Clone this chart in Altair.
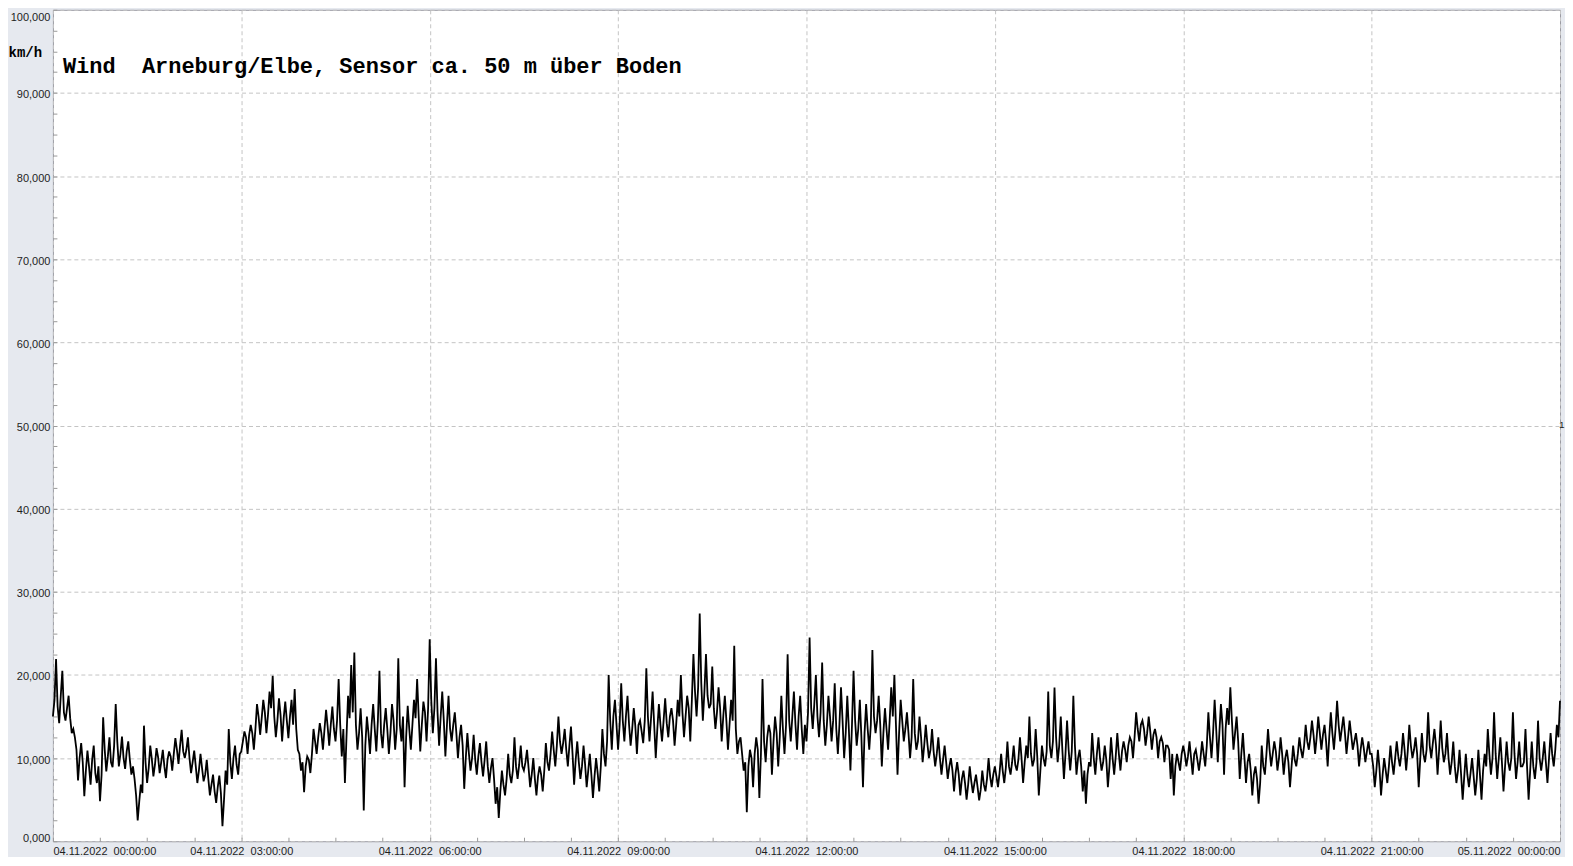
import altair as alt
import pandas as pd

# Wind speed (km/h), 04.11.2022 00:00 -> 05.11.2022 00:00.
# seg_*: readings on the full 3-minute marks (peaks / dips of the trace)
seg_00_03 = [15.0, 21.9, 14.2, 20.5, 14.5, 17.5, 13.0, 12.5, 7.3, 11.8,
             5.4, 10.9, 6.8, 11.5, 7.0, 4.8, 14.9, 8.4, 12.5, 8.9,
             16.5, 9.0, 12.6, 8.7, 12.0, 8.0, 7.5, 2.5, 6.8, 13.9,
             7.0, 11.5, 7.8, 11.2, 8.2, 11.0, 7.6, 10.8, 8.5, 12.4,
             9.3, 13.4, 10.0, 12.5, 8.2, 10.9, 7.0, 10.5, 7.2, 9.8,
             5.5, 8.0, 4.6, 7.9, 1.8, 8.5, 13.5, 7.5, 11.5, 8.0]
seg_03_06 = [10.8, 13.2, 10.5, 14.0, 11.0, 16.5, 12.8, 17.0, 13.0, 18.0,
             19.9, 12.5, 17.2, 12.0, 16.8, 12.4, 17.0, 18.3, 11.0, 8.5,
             5.9, 10.2, 8.2, 13.5, 10.5, 14.2, 11.0, 15.8, 11.5, 16.2,
             12.0, 19.5, 10.2, 7.0, 17.5, 21.2, 22.7, 11.0, 16.0, 3.7,
             15.0, 10.5, 16.5, 10.8, 20.5, 11.2, 16.0, 10.5, 16.5, 11.0,
             22.0, 12.0, 6.5, 16.3, 11.0, 17.0, 19.5, 10.8, 16.8, 12.0]
seg_06_09 = [24.3, 13.0, 22.0, 11.5, 18.0, 10.2, 17.5, 12.0, 15.5, 10.0,
             14.0, 6.3, 13.0, 8.5, 12.8, 8.0, 11.8, 7.8, 12.0, 7.0,
             10.0, 4.5, 2.8, 8.5, 5.5, 10.5, 7.0, 12.5, 7.5, 11.5,
             8.5, 11.0, 6.5, 10.0, 5.5, 9.0, 6.0, 11.8, 8.5, 13.2,
             9.0, 15.0, 10.5, 13.5, 9.0, 13.8, 6.8, 12.0, 7.5, 11.5,
             6.5, 10.5, 5.2, 10.0, 6.0, 13.5, 9.0, 20.0, 11.0, 17.0]
seg_09_12 = [11.0, 19.0, 12.0, 17.5, 11.5, 16.0, 10.5, 14.5, 11.8, 20.8,
             12.0, 18.0, 10.0, 16.5, 12.0, 17.2, 12.5, 16.0, 11.5, 17.0,
             20.0, 12.5, 17.5, 12.0, 22.5, 15.0, 27.4, 14.5, 22.5, 16.0,
             21.0, 13.5, 18.5, 12.0, 17.5, 11.0, 17.0, 23.5, 10.5, 12.5,
             8.5, 3.5, 11.0, 6.5, 12.5, 5.2, 19.5, 9.5, 14.0, 8.0,
             15.0, 9.0, 17.5, 10.5, 22.5, 12.0, 18.0, 11.0, 17.5, 10.5]
seg_12_15 = [12.0, 24.5, 13.5, 20.0, 12.5, 21.5, 11.5, 17.5, 12.0, 19.0,
             10.5, 18.5, 10.0, 17.5, 8.5, 20.5, 11.5, 17.0, 6.5, 16.5,
             11.0, 23.0, 13.0, 17.5, 9.0, 16.0, 11.0, 18.5, 20.0, 8.0,
             17.0, 12.0, 15.5, 10.0, 19.5, 11.0, 15.0, 9.5, 14.0, 10.0,
             13.5, 9.0, 12.5, 8.0, 11.5, 7.5, 10.0, 6.0, 9.5, 5.5,
             8.5, 5.0, 9.0, 5.8, 8.0, 4.9, 8.5, 6.0, 10.0, 6.5]
seg_15_18 = [9.0, 6.5, 10.5, 7.0, 12.0, 8.0, 11.5, 8.5, 12.5, 7.0,
             11.5, 15.0, 9.0, 13.5, 5.5, 11.5, 9.0, 18.0, 10.0, 18.5,
             9.5, 15.0, 7.5, 14.5, 8.5, 17.5, 8.0, 11.0, 6.0, 4.5,
             9.5, 13.0, 8.0, 12.5, 8.5, 11.5, 6.5, 12.5, 8.0, 13.0,
             8.5, 12.0, 9.5, 12.5, 10.0, 15.5, 12.0, 14.5, 11.5, 15.0,
             11.0, 13.5, 10.0, 12.5, 9.5, 11.5, 7.5, 5.5, 10.5, 8.5]
seg_18_21 = [11.5, 9.0, 12.0, 8.0, 11.0, 8.5, 12.0, 9.0, 15.5, 10.0,
             17.0, 9.5, 16.5, 8.0, 16.0, 18.5, 11.0, 15.0, 7.5, 13.0,
             7.0, 10.5, 5.5, 9.0, 4.5, 11.5, 8.0, 13.5, 9.0, 12.0,
             8.5, 12.5, 8.0, 11.0, 6.5, 11.5, 9.0, 12.5, 10.0, 14.0,
             11.0, 14.5, 10.5, 15.0, 11.0, 14.0, 9.0, 15.5, 11.0, 16.9,
             12.0, 15.0, 10.5, 14.5, 11.0, 13.0, 9.0, 12.5, 9.5, 12.0]
seg_21_24 = [10.5, 6.5, 11.0, 5.5, 10.0, 7.0, 11.5, 8.0, 12.0, 9.0,
             13.0, 8.5, 14.0, 10.0, 12.5, 6.5, 13.0, 9.5, 15.5, 10.0,
             13.5, 8.0, 14.5, 9.5, 13.0, 8.0, 12.0, 7.0, 11.0, 5.0,
             10.5, 6.5, 10.0, 5.5, 11.0, 5.0, 10.5, 13.5, 8.0, 15.5,
             7.5, 12.5, 6.0, 12.0, 8.5, 15.5, 7.5, 12.0, 9.0, 13.5,
             5.0, 12.0, 7.5, 14.5, 8.5, 12.0, 7.0, 13.0, 9.0, 14.0,
             16.9]

# mid_*: readings half-way between the 3-minute marks (dense core of the trace)
mid_00_03 = [17.0, 16.2, 17.5, 15.5, 16.0, 14.8, 13.5, 11.0, 10.0, 9.5,
             8.5, 9.0, 9.8, 8.2, 9.0, 8.0, 11.0, 10.2, 9.5, 11.5,
             12.0, 10.5, 10.0, 10.8, 9.8, 9.0, 5.5, 4.8, 5.8, 9.5,
             8.8, 9.9, 9.2, 10.1, 9.5, 9.0, 9.8, 10.2, 10.5, 11.0,
             11.5, 10.8, 11.0, 10.0, 9.5, 9.0, 8.5, 8.8, 8.0, 7.5,
             6.8, 6.0, 6.5, 5.8, 5.0, 6.8, 9.5, 10.0, 9.2, 10.5]
mid_03_06 = [12.0, 12.5, 12.8, 13.0, 13.5, 15.0, 14.8, 15.5, 15.2, 16.0,
             15.0, 14.5, 15.2, 14.8, 14.5, 15.0, 14.0, 13.5, 10.5, 9.5,
             9.0, 9.8, 10.5, 12.0, 12.5, 13.0, 13.5, 13.8, 14.0, 13.5,
             14.5, 14.0, 13.5, 12.5, 14.8, 15.5, 14.0, 13.0, 12.5, 11.5,
             13.0, 14.0, 13.5, 14.5, 13.0, 14.0, 13.5, 13.0, 14.5, 13.5,
             14.0, 15.0, 12.5, 13.5, 14.0, 14.8, 15.0, 14.0, 15.5, 16.0]
mid_06_09 = [17.0, 16.0, 15.5, 15.0, 14.5, 14.0, 13.5, 14.0, 13.0, 12.5,
             11.5, 10.0, 10.5, 10.0, 9.8, 10.2, 9.5, 9.8, 9.0, 8.8,
             7.5, 6.5, 6.0, 6.8, 7.5, 8.0, 8.5, 9.0, 9.2, 9.0,
             9.5, 8.8, 8.0, 7.5, 7.8, 8.0, 8.5, 9.5, 10.5, 11.0,
             11.5, 12.0, 11.8, 11.0, 11.5, 10.5, 9.8, 9.5, 9.0, 9.2,
             8.5, 8.0, 7.8, 8.2, 9.0, 10.5, 12.0, 14.5, 15.0, 14.0]
mid_09_12 = [14.0, 14.5, 15.0, 14.0, 13.5, 13.8, 14.0, 13.2, 14.5, 15.0,
             14.8, 14.0, 13.5, 14.0, 14.5, 14.2, 15.0, 14.5, 14.0, 15.0,
             15.5, 15.0, 16.0, 17.0, 18.0, 18.5, 19.0, 18.0, 17.5, 16.5,
             16.0, 15.5, 16.0, 15.0, 14.5, 14.0, 14.5, 13.5, 12.0, 10.5,
             9.5, 9.0, 10.0, 10.5, 11.0, 10.5, 12.0, 12.5, 13.0, 12.0,
             13.0, 12.5, 13.5, 14.0, 14.5, 15.0, 14.0, 15.0, 13.5, 14.0]
mid_12_15 = [15.5, 16.0, 16.5, 15.0, 15.5, 14.5, 14.0, 15.0, 14.5, 13.5,
             14.0, 14.5, 13.0, 13.5, 14.0, 14.5, 13.5, 12.5, 13.0, 13.5,
             14.0, 15.0, 14.5, 14.0, 13.0, 13.5, 14.5, 15.0, 14.0, 13.0,
             14.5, 13.5, 13.0, 12.5, 13.0, 12.0, 12.5, 11.5, 11.8, 11.0,
             10.8, 10.5, 10.0, 9.8, 9.5, 9.0, 8.5, 8.2, 8.0, 7.5,
             7.0, 6.8, 7.2, 7.0, 6.5, 6.2, 6.8, 7.5, 7.8, 8.0]
mid_15_18 = [7.8, 8.2, 8.5, 8.8, 9.0, 9.5, 9.2, 9.8, 10.0, 9.5,
             10.0, 10.5, 9.8, 10.2, 8.5, 10.0, 10.8, 11.5, 12.0, 12.5,
             11.5, 11.0, 10.5, 11.0, 10.8, 11.5, 10.0, 9.0, 8.5, 8.0,
             9.0, 10.0, 10.5, 10.0, 9.5, 9.8, 9.0, 10.0, 10.2, 10.5,
             10.8, 11.0, 11.5, 12.0, 12.5, 13.5, 14.0, 13.5, 13.0, 13.2,
             12.8, 12.5, 12.0, 11.8, 11.5, 11.0, 10.5, 9.0, 9.5, 10.5]
mid_18_21 = [10.5, 10.2, 10.0, 10.5, 9.8, 10.0, 10.5, 11.5, 12.5, 13.0,
             13.5, 13.0, 14.0, 13.5, 14.0, 14.5, 13.0, 12.0, 10.5, 10.0,
             9.5, 8.5, 8.0, 7.5, 7.0, 9.0, 10.5, 11.0, 10.5, 10.8,
             10.0, 10.5, 10.0, 9.5, 9.0, 9.8, 10.5, 11.0, 11.5, 12.0,
             12.5, 12.8, 12.5, 13.0, 12.8, 12.0, 12.5, 13.0, 13.5, 14.0,
             13.5, 13.0, 12.5, 12.8, 12.0, 11.5, 11.0, 11.2, 10.8, 10.5]
mid_21_24 = [9.0, 8.5, 8.8, 8.0, 8.5, 9.0, 9.5, 10.0, 10.2, 10.5,
             11.0, 10.8, 11.5, 11.0, 10.5, 10.0, 10.5, 11.0, 11.5, 11.8,
             11.5, 11.0, 11.2, 10.5, 10.0, 9.5, 9.0, 8.5, 8.0, 7.8,
             8.0, 8.2, 7.8, 7.5, 8.0, 8.5, 9.0, 10.5, 10.0, 10.5,
             10.0, 9.5, 9.0, 9.5, 10.0, 10.5, 9.5, 9.0, 9.5, 9.0,
             8.5, 9.0, 9.5, 10.0, 10.0, 9.5, 10.0, 10.5, 11.0, 12.5]

y_major = [0, 10, 20, 30, 40, 50, 60, 70, 80, 90, 100]
y_minor = [v * 2.5 for v in range(41)]
x_major = [0, 180, 360, 540, 720, 900, 1080, 1260, 1440]
x_minor = [v * 45 for v in range(33)]

TITLE = "Wind\u00a0\u00a0Arneburg/Elbe, Sensor ca. 50 m über Boden"
STEP_MIN = 3

marks = (seg_00_03 + seg_03_06 + seg_06_09 + seg_09_12 +
         seg_12_15 + seg_15_18 + seg_18_21 + seg_21_24)
mids = (mid_00_03 + mid_03_06 + mid_06_09 + mid_09_12 +
        mid_12_15 + mid_15_18 + mid_18_21 + mid_21_24)

rows = []
for i, v in enumerate(marks):
    rows.append((i * STEP_MIN, v))
for i, v in enumerate(mids):
    rows.append((i * STEP_MIN + STEP_MIN / 2, v))
df = pd.DataFrame(rows, columns=["t", "v"]).sort_values("t").reset_index(drop=True)

W, H = 1510, 833

xscale = alt.Scale(domain=[0, 1440], nice=False, zero=False)
yscale = alt.Scale(domain=[0, 100], nice=False)

x_label_expr = ("(datum.value >= 1440 ? '05.11.2022' : '04.11.2022') + '\u00a0\u00a0' + "
                "(floor(datum.value / 60) % 24 < 10 ? '0' : '') + (floor(datum.value / 60) % 24) + ':00:00'")

line = alt.Chart(df).mark_line(color="black", strokeWidth=1.8, strokeJoin="miter").encode(
    x=alt.X("t:Q", scale=xscale, axis=alt.Axis(
        values=x_major, labelExpr=x_label_expr, ticks=False, domain=False,
        grid=True, gridDash=[4, 3], gridColor="#c4c4c4",
        labelFlush=True, labelFontSize=11, labelFont="Liberation Sans",
        labelColor="#1e1e1e", labelPadding=4, title=None)),
    y=alt.Y("v:Q", scale=yscale, axis=alt.Axis(
        values=y_major, labelExpr="replace(format(datum.value, '.3f'), '.', ',')",
        ticks=False, domain=False, grid=True, gridDash=[4, 3], gridColor="#c4c4c4",
        labelFlush=True, labelFontSize=11, labelFont="Liberation Sans",
        labelColor="#1e1e1e", labelPadding=3, labelOffset=2,
        title="km/h", titleAngle=0, titleX=-45, titleY=43, titleAlign="left",
        titleBaseline="middle", titleFont="Liberation Mono", titleFontSize=14,
        titleFontWeight="bold", titleColor="black")),
    order="t:Q",
)

minor = alt.Chart(df).mark_line(opacity=0).encode(
    x=alt.X("t:Q", scale=xscale, axis=alt.Axis(
        orient="top", offset=-H, values=x_minor, labels=False, grid=False,
        domain=False, ticks=True, tickSize=4, tickColor="#9a9a9a", title=None)),
    y=alt.Y("v:Q", scale=yscale, axis=alt.Axis(
        orient="right", offset=-W, values=y_minor, labels=False, grid=False,
        domain=False, ticks=True, tickSize=4, tickColor="#9a9a9a", title=None)),
)

title_df = pd.DataFrame({"label": [TITLE]})
title = alt.Chart(title_df).mark_text(
    align="left", baseline="middle", font="Liberation Mono", fontSize=22,
    fontWeight="bold", color="black"
).encode(x=alt.value(10), y=alt.value(56), text="label:N")

side_df = pd.DataFrame({"label": ["1"]})
side = alt.Chart(side_df).mark_text(
    align="left", baseline="middle", font="Liberation Sans", fontSize=10, color="#1e1e1e"
).encode(x=alt.value(W - 1), y=alt.value(416), text="label:N")

chart = alt.layer(line, minor, title, side).resolve_axis(
    x="independent", y="independent"
).properties(
    width=W, height=H, padding={"left": 0, "top": 0, "right": 0, "bottom": 0},
    background="#e6e9ef"
).configure_view(stroke="#9a9aa2", fill="white")

chart.save("out.html", embed_options={"renderer": "svg", "actions": False})
